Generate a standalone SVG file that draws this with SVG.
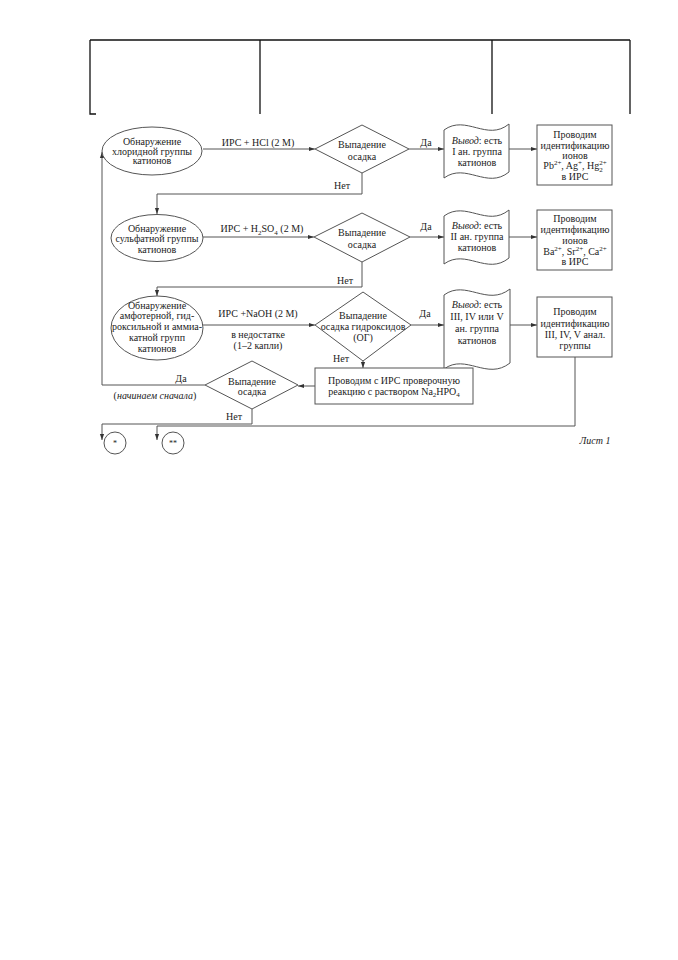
<svg xmlns="http://www.w3.org/2000/svg" width="678" height="960" viewBox="0 0 678 960">
<defs>
<marker id="ah" viewBox="0 0 10 10" refX="10" refY="5" markerWidth="6" markerHeight="6" orient="auto" markerUnits="userSpaceOnUse"><path d="M0,1.5 L10,5 L0,8.5 z" fill="#333"/></marker>
</defs>
<style>
text{font-family:"Liberation Serif","Times New Roman",serif;font-size:10px;fill:#222;text-anchor:middle}
.s{fill:#fff;stroke:#555;stroke-width:1}
.c{fill:none;stroke:#555;stroke-width:1}
.h{stroke:#111;stroke-width:1.3;fill:none}
.i{font-style:italic}
.sp{font-size:7px}
</style>
<rect width="678" height="960" fill="#fff"/>
<g id="header">
<path class="h" d="M90,40 H630 M90,40 V114 H96 M260,40 V114 M492,40 V114 M630,40 V114"/>
</g>
<g id="connectors">
<path class="c" d="M203,149 H315" marker-end="url(#ah)"/>
<path class="c" d="M409,149 H444" marker-end="url(#ah)"/>
<path class="c" d="M509,149 H537" marker-end="url(#ah)"/>
<path class="c" d="M362,173 V194 H157 V214" marker-end="url(#ah)"/>
<path class="c" d="M203,237 H314" marker-end="url(#ah)"/>
<path class="c" d="M410,237 H444" marker-end="url(#ah)"/>
<path class="c" d="M509,237 H537" marker-end="url(#ah)"/>
<path class="c" d="M362,262 V287 H157 V296" marker-end="url(#ah)"/>
<path class="c" d="M203,325 H315" marker-end="url(#ah)"/>
<path class="c" d="M411,325 H444" marker-end="url(#ah)"/>
<path class="c" d="M510,325 H537" marker-end="url(#ah)"/>
<path class="c" d="M363,361 V368" marker-end="url(#ah)"/>
<path class="c" d="M315,386 H298" marker-end="url(#ah)"/>
<path class="c" d="M205,385 H102 V152" marker-end="url(#ah)"/>
<path class="c" d="M252,409 V424 H102 V440" marker-end="url(#ah)"/>
<path class="c" d="M575,357 V426 H157 V440" marker-end="url(#ah)"/>
<text x="258" y="146">ИРС + HCl (2 M)</text>
<text x="426" y="146">Да</text>
<text x="342" y="188.5">Нет</text>
<text x="262" y="232">ИРС + H<tspan class="sp" dy="2.5">2</tspan><tspan dy="-2.5">SO</tspan><tspan class="sp" dy="2.5">4</tspan><tspan dy="-2.5"> (2 M)</tspan></text>
<text x="426" y="229.5">Да</text>
<text x="345" y="283.5">Нет</text>
<text x="258" y="317">ИРС +NaOH (2 M)</text>
<text x="258" y="337.5">в недостатке</text>
<text x="258" y="348.5">(1–2 капли)</text>
<text x="425" y="316.5">Да</text>
<text x="341" y="362">Нет</text>
<text x="181" y="381.5">Да</text>
<text x="155" y="399">(<tspan class="i">начинаем сначала</tspan>)</text>
<text x="234" y="420">Нет</text>
</g>
<g id="e1">
<ellipse class="s" cx="152" cy="151" rx="50" ry="24"/>
<text x="152" y="145">Обнаружение</text>
<text x="152" y="154.5">хлоридной группы</text>
<text x="152" y="164">катионов</text>
</g>
<g id="d1">
<polygon class="s" points="362,125 409,149 362,173 315,149"/>
<text x="362" y="147.5">Выпадение</text>
<text x="362" y="160">осадка</text>
</g>
<g id="doc1">
<path class="s" d="M444,130 C466,114 487,142 509,124 V172 C487,190 466,162 444,178 Z"/>
<text x="477" y="143.5"><tspan class="i">Вывод</tspan>: есть</text>
<text x="477" y="154.5">I ан. группа</text>
<text x="477" y="165.5">катионов</text>
</g>
<g id="box1">
<rect class="s" x="537" y="125" width="75" height="60"/>
<text x="575" y="138">Проводим</text>
<text x="575" y="148.5">идентификацию</text>
<text x="575" y="158.5">ионов</text>
<text x="575" y="169">Pb<tspan class="sp" dy="-4">2+</tspan><tspan dy="4">, Ag</tspan><tspan class="sp" dy="-4">+</tspan><tspan dy="4">, Hg</tspan><tspan class="sp" dy="2.5">2</tspan><tspan class="sp" dx="-3.5" dy="-7">2+</tspan></text>
<text x="575" y="180">в ИРС</text>
</g>
<g id="e2">
<ellipse class="s" cx="157" cy="238" rx="46" ry="23.5"/>
<text x="157" y="232">Обнаружение</text>
<text x="157" y="242">сульфатной группы</text>
<text x="157" y="252.5">катионов</text>
</g>
<g id="d2">
<polygon class="s" points="362,213 410,237 362,262 314,237"/>
<text x="362" y="235.5">Выпадение</text>
<text x="362" y="248">осадка</text>
</g>
<g id="doc2">
<path class="s" d="M444,216 C466,200 487,228 509,210 V258 C487,276 466,248 444,264 Z"/>
<text x="477" y="228.5"><tspan class="i">Вывод</tspan>: есть</text>
<text x="477" y="239.5">II ан. группа</text>
<text x="477" y="251">катионов</text>
</g>
<g id="box2">
<rect class="s" x="537" y="210" width="75" height="60"/>
<text x="575" y="222">Проводим</text>
<text x="575" y="233">идентификацию</text>
<text x="575" y="243.5">ионов</text>
<text x="575" y="254.5">Ba<tspan class="sp" dy="-4">2+</tspan><tspan dy="4">, Sr</tspan><tspan class="sp" dy="-4">2+</tspan><tspan dy="4">, Ca</tspan><tspan class="sp" dy="-4">2+</tspan></text>
<text x="575" y="265">в ИРС</text>
</g>
<g id="e3">
<ellipse class="s" cx="157" cy="328" rx="46" ry="32"/>
<text x="157" y="308.5">Обнаружение</text>
<text x="157" y="319">амфотерной, гид-</text>
<text x="157" y="329.5">роксильной и аммиа-</text>
<text x="157" y="340.5">катной групп</text>
<text x="157" y="351.5">катионов</text>
</g>
<g id="d3">
<polygon class="s" points="363,292 411,325 363,361 315,325"/>
<text x="363" y="318.5">Выпадение</text>
<text x="363" y="329.5">осадка гидроксидов</text>
<text x="363" y="340.5">(ОГ)</text>
</g>
<g id="doc3">
<path class="s" d="M444,295 C466,279 487,307 510,289 V363 C487,381 466,353 444,369 Z"/>
<text x="477" y="307.5"><tspan class="i">Вывод</tspan>: есть</text>
<text x="477" y="319.5">III, IV или V</text>
<text x="477" y="331.5">ан. группа</text>
<text x="477" y="343.5">катионов</text>
</g>
<g id="box3">
<rect class="s" x="537" y="297" width="75" height="60"/>
<text x="575" y="315">Проводим</text>
<text x="575" y="326.5">идентификацию</text>
<text x="575" y="337.5">III, IV, V анал.</text>
<text x="575" y="349">группы</text>
</g>
<g id="box4">
<rect class="s" x="315" y="368" width="158" height="36"/>
<text x="394" y="383.5">Проводим с ИРС проверочную</text>
<text x="394" y="394.5">реакцию с раствором Na<tspan class="sp" dy="2.5">2</tspan><tspan dy="-2.5">HPO</tspan><tspan class="sp" dy="2.5">4</tspan></text>
</g>
<g id="d4">
<polygon class="s" points="252,361 298,385 252,409 205,385"/>
<text x="252" y="384.5">Выпадение</text>
<text x="252" y="395">осадка</text>
</g>
<g id="c1">
<circle class="s" cx="115" cy="443" r="11"/>
<text x="115" y="446" style="font-size:8px">*</text>
</g>
<g id="c2">
<circle class="s" cx="173" cy="443" r="11"/>
<text x="173" y="446" style="font-size:8px">**</text>
</g>
<g id="sheet">
<text x="595" y="443.5" class="i">Лист 1</text>
</g>
</svg>
